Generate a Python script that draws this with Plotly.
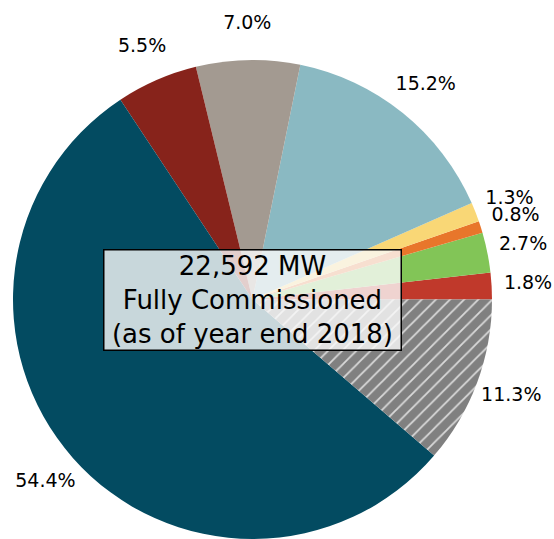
import numpy as np
import plotly.graph_objects as go

# slices, counterclockwise from 3 o'clock
shares = [1.8, 2.7, 0.8, 1.3, 15.2, 7.0, 5.5, 54.4, 11.3]
colors = ["#C0392B", "#82C557", "#E8762B", "#F9D776", "#8AB9C2",
          "#A39A91", "#87231B", "#034B61", "#808080"]
hatched = [False] * 8 + [True]
center_text = "22,592 MW<br>Fully Commissioned<br>(as of year end 2018)"

W, H = 554, 539
cx, cy, R = 252.5, 300.0, 240.0

fig = go.Figure()

# plotly's counterclockwise pies put the first slice's far edge at `rotation`,
# so shift back by the first slice to start it at 3 o'clock
rot = 90 - shares[0] / sum(shares) * 360

fig.add_trace(go.Pie(
    values=shares,
    sort=False,
    direction="counterclockwise",
    rotation=rot,
    marker=dict(
        colors=colors,
        line=dict(width=0),
        pattern=dict(
            shape=["/" if h else "" for h in hatched],
            fgcolor="#d9d9d9",
            bgcolor=colors,
            size=10,
            solidity=0.18,
        ),
    ),
    textinfo="none",
    hoverinfo="skip",
    showlegend=False,
    domain=dict(x=[(cx - R) / W, (cx + R) / W],
                y=[max(0, 1 - (cy + R) / H), 1 - (cy - R) / H]),
))

# percentage labels at 1.15 r, on axes scaled to the pie radius
cum = np.cumsum([0] + shares[:-1])
mid = np.radians((cum + np.array(shares) / 2) / 100 * 360)
fig.add_trace(go.Scatter(
    x=1.15 * np.cos(mid),
    y=1.15 * np.sin(mid),
    mode="text",
    text=[f"{s:.1f}%" for s in shares],
    textposition="middle center",
    textfont=dict(family="DejaVu Sans", size=19, color="black"),
    hoverinfo="skip",
    showlegend=False,
))

fig.add_annotation(
    x=0, y=0, xref="x", yref="y",
    text=center_text,
    showarrow=False,
    font=dict(family="DejaVu Sans", size=26, color="black"),
    bgcolor="rgba(250,250,250,0.8)",
    bordercolor="black",
    borderwidth=1.5,
    borderpad=0,
    width=296,
    height=99,
    align="center",
)

fig.update_layout(
    width=W, height=H,
    margin=dict(l=0, r=0, t=0, b=0),
    paper_bgcolor="white",
    plot_bgcolor="rgba(0,0,0,0)",
    xaxis=dict(range=[-cx / R, (W - cx) / R], visible=False, domain=[0, 1]),
    yaxis=dict(range=[-(H - cy) / R, cy / R], visible=False, domain=[0, 1]),
)

fig.write_html("out.html",
               config={"displayModeBar": False},
               post_script="document.body.style.margin='0';"
                           "document.body.style.overflow='hidden';")
